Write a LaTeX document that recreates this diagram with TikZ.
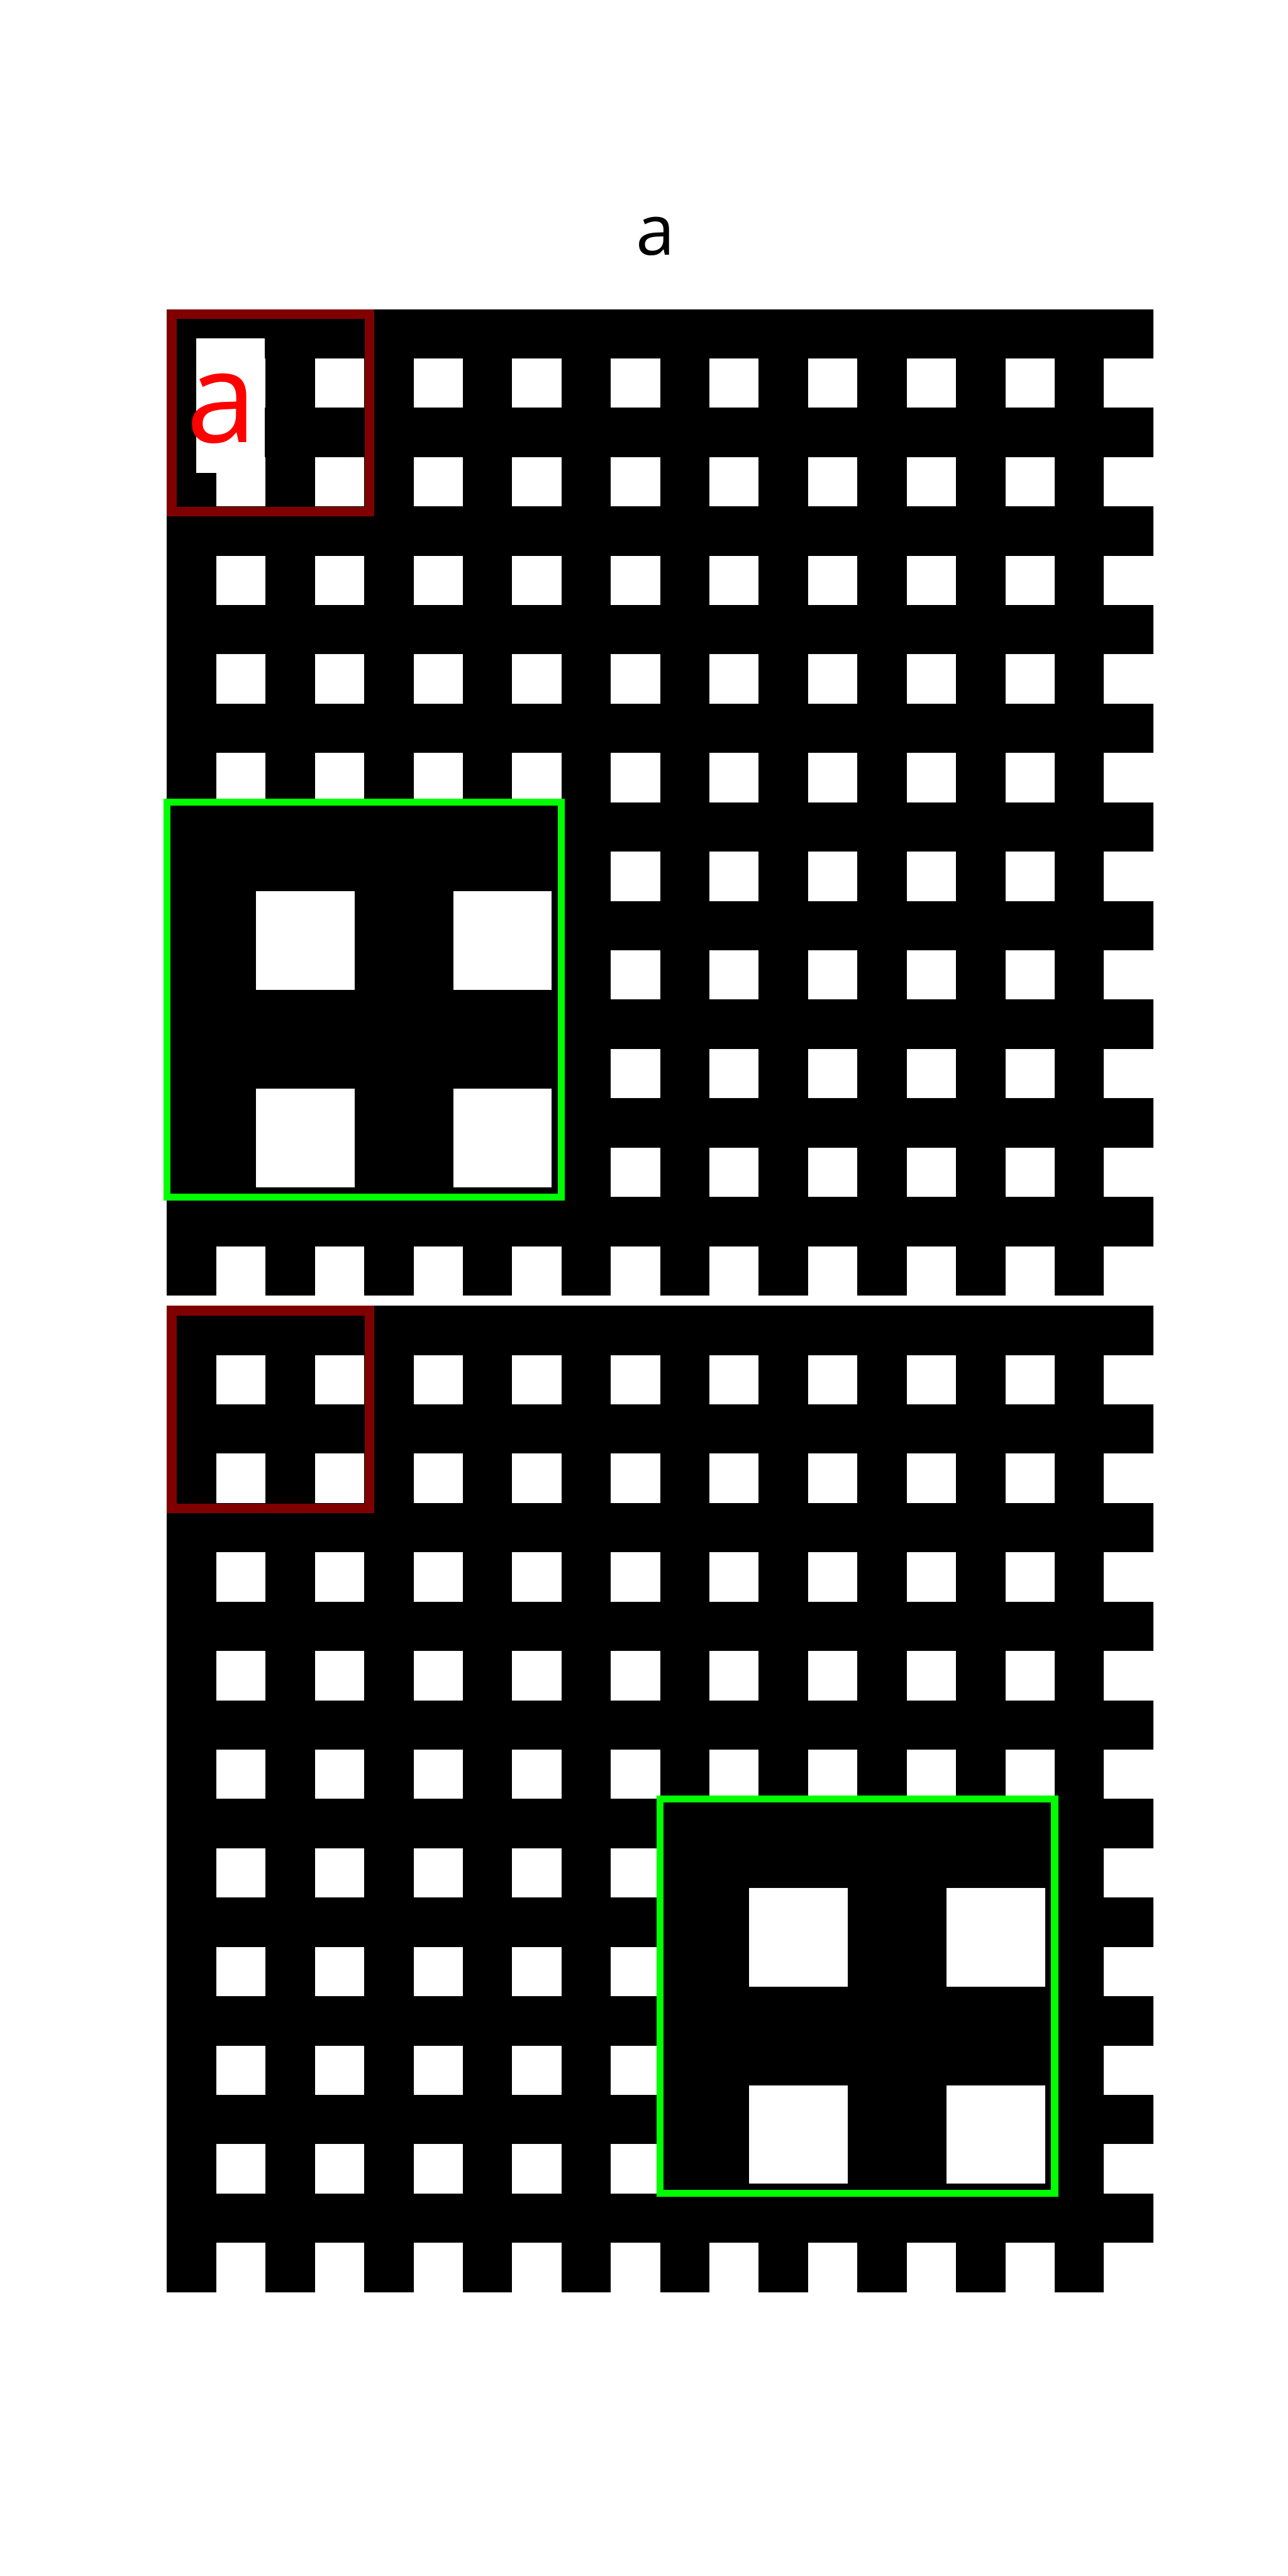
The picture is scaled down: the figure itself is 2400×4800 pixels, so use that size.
\documentclass[tikz,border=0pt]{standalone}
\usepackage{fontspec}
\setmainfont{Open Sans}
\definecolor{framered}{RGB}{128,0,0}
\definecolor{zoomgreen}{RGB}{0,255,0}
\begin{document}
\begin{tikzpicture}[x=0.01cm, y=-0.01cm,
  panelfill/.style={fill=black},
  holefill/.style={fill=white},
  redframe/.style={draw=framered, line width=0.18cm},
  greenframe/.style={draw=zoomgreen, line width=0.13cm},
  titlefont/.style={font=\fontsize{37pt}{37pt}\selectfont}]
\useasboundingbox[fill=white] (0,0) rectangle (2400,4800);

% two patterned panels (10 x 10 cells, white square in lower-right quadrant)
\foreach \py in {576,2433} {
  \fill[panelfill] (311,\py) rectangle ++(1838,1838);
  \foreach \i in {0,...,9} {
    \foreach \j in {0,...,9} {
      \fill[holefill] ({311+\i*183.8+91.9},{\py+\j*183.8+91.9}) rectangle ++(91.9,91.9);
    }
  }
}

% title
\node[titlefont, inner sep=0pt, anchor=base] (title) at (1221,475) {a};

% red label with white background in the first panel
\node[fill=white, text=red, inner sep=0pt, minimum width=1.27cm,
      text height=1.94cm, text depth=0.57cm,
      font=\fontsize{67pt}{67pt}\selectfont] (redlabel) at (429.5,755.5) {\hspace*{-0.32cm}a};

% red source frames
\draw[redframe] (320,585) rectangle (688.6,953.6);
\draw[redframe] (320,2442) rectangle (688.6,2810.6);

% magnified insets with green frames
\foreach \gx/\gy in {311/1495.2, 1230/3352} {
  \fill[panelfill] (\gx,\gy) rectangle ++(735.2,735.2);
  \foreach \i in {0,1} {
    \foreach \j in {0,1} {
      \fill[holefill] ({\gx+165.8+\i*367.6},{\gy+165.8+\j*367.6}) rectangle ++(183.8,183.8);
    }
  }
  \draw[greenframe] (\gx,\gy) rectangle ++(735.2,735.2);
}
\end{tikzpicture}
\end{document}
